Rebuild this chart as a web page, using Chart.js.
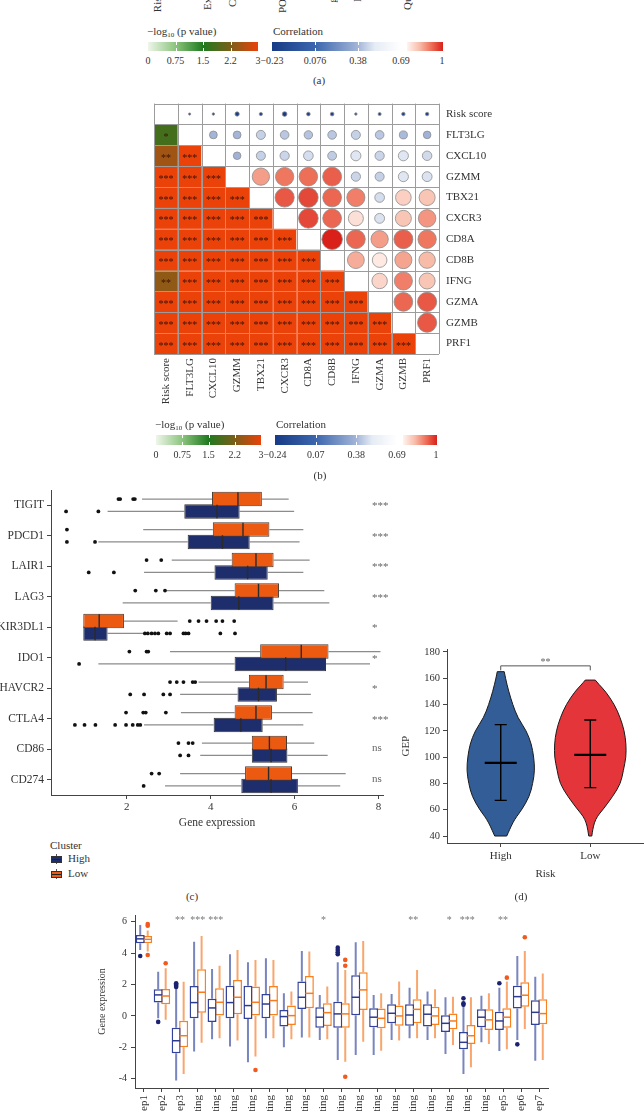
<!DOCTYPE html>
<html>
<head>
<meta charset="utf-8">
<title>Immune correlation figure</title>
<script src="https://cdn.jsdelivr.net/npm/chart.js@4.4.1/dist/chart.umd.min.js"></script>
<style>
  html, body { margin: 0; padding: 0; background: #fff; }
  body { position: relative; width: 644px; height: 1111px; overflow: hidden;
         font-family: "Liberation Serif", "DejaVu Serif", serif; color: #333; }
  canvas { position: absolute; }
  .txt { position: absolute; white-space: nowrap; line-height: 1; }
  .txt sub { font-size: 7px; vertical-align: -2px; line-height: 0; }
  .vert { position: absolute; writing-mode: vertical-rl; transform: rotate(180deg);
          white-space: nowrap; font-size: 11px; line-height: 11px; width: 11px; }
  .bar { position: absolute; }
  .tick { position: absolute; width: 1px; height: 3px; background: #fff; }
</style>
</head>
<body>
<canvas id="corrChart" width="380" height="330" style="left:140px;top:90px"></canvas>
<canvas id="checkpointChart" width="400" height="355" style="left:0;top:480px"></canvas>
<canvas id="gepChart" width="264" height="241" style="left:380px;top:640px"></canvas>
<canvas id="stepChart" width="470" height="245" style="left:90px;top:905px"></canvas>
<script>
// ---------- data ----------

// panel (a): only the ends of its column labels and its legend are in frame
const topMatrixLabels = ["Risk score", "TIDE", "Exclusion", "Cytolytic", "MSI", "POU2AF1",
  "CAF", "gMDSC", "Effector", "M2", "Quiescent", "CD8"];
const pTickText = ["0", "0.75", "1.5", "2.2", "3"];
const corrTickTextA = ["\u22120.23", "0.076", "0.38", "0.69", "1"];
const corrTickTextB = ["\u22120.24", "0.07", "0.38", "0.69", "1"];

// panel (b)
const corrGenes = ["Risk score", "FLT3LG", "CXCL10", "GZMM", "TBX21", "CXCR3", "CD8A", "CD8B",
  "IFNG", "GZMA", "GZMB", "PRF1"];
// upper triangle: correlation of row i with columns i+1 .. 11
const corrUpper = [
  [-0.11, -0.12, -0.21, -0.16, -0.23, -0.18, -0.18, -0.12, -0.15, -0.17, -0.17],
  [0.38, 0.38, 0.44, 0.42, 0.41, 0.42, 0.44, 0.42, 0.39, 0.37],
  [0.37, 0.44, 0.45, 0.47, 0.43, 0.49, 0.45, 0.49, 0.46],
  [0.84, 0.89, 0.90, 0.92, 0.45, 0.44, 0.49, 0.48],
  [0.93, 0.95, 0.91, 0.88, 0.47, 0.76, 0.78],
  [0.95, 0.91, 0.73, 0.48, 0.78, 0.85],
  [1.00, 0.91, 0.84, 0.92, 0.89],
  [0.82, 0.71, 0.83, 0.80],
  [0.75, 0.88, 0.78],
  [0.91, 0.93],
  [0.93]
];
// lower triangle: -log10(p), capped at 3, row i with columns 0 .. i-1
const negLogP = [
  [],
  [1.8],
  [2.5, 3],
  [3, 3, 3],
  [3, 3, 3, 3],
  [3, 3, 3, 3, 3],
  [3, 3, 3, 3, 3, 3],
  [3, 3, 3, 3, 3, 3, 3],
  [2.4, 3, 3, 3, 3, 3, 3, 3],
  [3, 3, 3, 3, 3, 3, 3, 3, 3],
  [3, 3, 3, 3, 3, 3, 3, 3, 3, 3],
  [3, 3, 3, 3, 3, 3, 3, 3, 3, 3, 3]
];

// panel (c)
const checkpointGenes = ["TIGIT", "PDCD1", "LAIR1", "LAG3", "KIR3DL1", "IDO1", "HAVCR2", "CTLA4", "CD86", "CD274"];
const checkpointTicks = [2, 4, 6, 8];
const lowMinC = [2.36, 2.39, 3.07, 2.95, 0.96, 3.03, 3.71, 3.29, 3.79, 3.27];
const lowQ1C  = [4.03, 4.05, 4.50, 4.57, 0.96, 5.18, 4.91, 4.57, 4.98, 4.82];
const lowMedC = [4.65, 4.77, 5.08, 5.14, 1.34, 6.16, 5.32, 5.08, 5.40, 5.38];
const lowQ3C  = [5.22, 5.40, 5.50, 5.63, 1.93, 6.81, 5.74, 5.46, 5.82, 5.94];
const lowMaxC = [5.86, 6.21, 6.36, 6.71, 3.21, 8.05, 6.32, 6.43, 6.47, 7.22];
const lowOutC = [[1.80, 1.84, 2.15, 2.19], [0.57], [2.47, 2.82], [2.20, 2.69, 2.91],
  [3.50, 3.71, 3.90, 4.13, 4.28, 4.56], [2.06, 2.47, 2.51], [3.03, 3.19, 3.35, 3.57, 3.63],
  [1.98, 2.39, 2.45, 2.93], [3.23, 3.47, 3.57], [2.59, 2.77]];
const highMinC = [1.54, 1.32, 2.41, 1.90, 0.96, 1.32, 3.27, 2.41, 3.75, 2.91];
const highQ1C  = [3.37, 3.45, 4.09, 4.00, 0.96, 4.57, 4.64, 4.07, 4.98, 4.73];
const highMedC = [4.15, 4.28, 4.88, 4.67, 1.24, 5.79, 5.14, 4.72, 5.44, 5.44];
const highQ3C  = [4.69, 4.93, 5.36, 5.50, 1.54, 6.75, 5.58, 5.24, 5.83, 6.08];
const highMaxC = [5.99, 6.12, 6.21, 6.83, 2.40, 7.80, 6.39, 6.21, 6.79, 7.09];
const highOutC = [[0.55, 1.32], [0.57, 1.24], [1.09, 1.69], [],
  [2.43, 2.50, 2.59, 2.67, 2.75, 2.95, 3.03, 3.35, 3.40, 3.47, 4.23, 4.58], [0.86],
  [2.08, 2.41, 2.87, 3.03], [0.76, 0.99, 1.25, 1.72, 1.98, 2.14, 2.26, 2.32], [3.27, 3.47], [2.40]];
const checkpointSig = ["***", "***", "***", "***", "*", "*", "*", "***", "ns", "ns"];

// panel (d)
const riskGroups = ["High", "Low"];
const gepTicks = [40, 60, 80, 100, 120, 140, 160, 180];
const violinLevelsHigh = [40, 45, 50, 55, 60, 70, 80, 90, 100, 110, 120, 130, 140, 150, 160, 165];
const violinWidthHigh = [0.067, 0.10, 0.134, 0.179, 0.235, 0.32, 0.358, 0.38, 0.369, 0.343, 0.287, 0.19, 0.134, 0.089, 0.053, 0.039];
const violinLevelsLow = [40, 45, 50, 55, 60, 70, 80, 90, 100, 110, 120, 130, 140, 150, 155, 158.6];
const violinWidthLow = [0.017, 0.028, 0.045, 0.078, 0.14, 0.25, 0.34, 0.37, 0.40, 0.40, 0.38, 0.335, 0.27, 0.17, 0.10, 0.056];
const gepMean = [95.7, 101.7];
const gepUpper = [124.7, 128.2];
const gepLower = [67.1, 76.8];
const gepSig = "**";

// panel (e)
const stepLabels = ["Step1", "Step2", "Step3", "T cell recruiting", "CD4 T cell recruiting",
  "CD8 T cell recruiting", "Th1 cell recruiting", "Dendritic cell recruiting", "Th22 cell recruiting",
  "Macrophage recruiting", "Monocyte recruiting", "Neutrophil recruiting", "NK cell recruiting",
  "Eosinophil recruiting", "B cell recruiting", "Basophil recruiting", "Th17 cell recruiting",
  "MDSC recruiting", "TH2 cell recruiting", "Treg cell recruiting", "Step5", "Step6", "Step7"];
const stepTicks = [-4, -2, 0, 2, 4, 6];
const highMinE = [4.20, -0.15, -4.12, -2.27, -1.49, -1.95, -2.95, -1.42, -1.99, -1.38, -1.53, -2.81, -2.49, -2.49, -1.53, -1.42, -1.53, -2.42, -3.70, -1.68, -2.23, -1.53, -2.85];
const highQ1E  = [4.63, 0.85, -2.38, -0.15, -0.38, -0.15, -0.19, -0.15, -0.68, 0.45, -0.75, -0.75, 0.04, -0.72, -0.47, -0.62, -0.68, -1.02, -2.12, -0.72, -0.89, 0.47, -0.58];
const highMedE = [4.91, 1.34, -1.58, 0.85, 0.51, 0.85, 0.66, 0.76, -0.04, 1.19, -0.08, 0.13, 1.19, -0.08, 0.17, 0.06, 0.11, -0.47, -1.68, -0.08, -0.32, 1.23, 0.23];
const highQ3E  = [5.16, 1.70, -0.75, 1.91, 1.10, 1.93, 1.93, 1.40, 0.38, 2.19, 0.55, 0.91, 2.59, 0.49, 0.74, 0.74, 0.74, 0.04, -1.02, 0.42, 0.27, 1.93, 1.00];
const highMaxE = [5.79, 2.82, 1.76, 4.73, 2.99, 3.93, 3.42, 3.67, 1.44, 4.14, 1.34, 3.42, 4.69, 1.34, 1.40, 1.80, 1.55, 1.19, 0.66, 1.29, 1.80, 3.82, 2.50];
const highOutE = [[3.82], [-0.38], [1.85, 1.92, 2.00, 2.08], [], [], [], [], [], [], [], [],
  [3.93, 4.05, 4.20, 4.35], [], [], [], [], [], [], [0.72, 0.81, 1.12], [], [2.08], [-1.81], []];
const lowMinE = [4.10, -0.25, -3.70, -1.70, -1.42, -1.57, -2.59, -1.42, -1.49, -1.38, -1.49, -2.91, -1.64, -2.21, -1.57, -1.42, -1.42, -1.85, -3.27, -1.79, -2.12, -0.83, -2.81];
const lowQ1E  = [4.63, 0.74, -2.00, 0.21, 0.00, 0.11, 0.00, 0.00, -0.58, 0.49, -0.64, -0.75, 0.38, -0.78, -0.62, -0.47, -0.58, -0.85, -1.79, -0.89, -0.76, 0.59, -0.53];
const lowMedE = [4.88, 1.27, -1.26, 1.51, 0.87, 1.19, 0.87, 0.98, 0.02, 1.44, 0.21, 0.13, 1.66, -0.15, 0.00, 0.42, 0.00, -0.32, -1.26, -0.25, -0.08, 1.32, 0.15];
const lowQ3E  = [5.10, 1.72, -0.30, 2.97, 1.76, 2.29, 1.87, 1.91, 0.66, 2.55, 0.81, 0.81, 2.78, 0.47, 0.66, 1.06, 0.59, 0.15, -0.58, 0.42, 0.49, 2.15, 1.06];
const lowMaxE = [5.45, 3.04, 2.18, 5.09, 3.20, 4.20, 3.57, 3.57, 1.55, 4.10, 1.87, 2.93, 4.78, 1.44, 2.19, 2.93, 1.70, 1.23, 1.19, 1.44, 2.19, 4.14, 2.71];
const lowOutE = [[3.88, 5.75, 5.85], [3.36], [], [], [], [], [-3.44], [], [], [], [],
  [3.20, 3.57, -3.87], [], [], [], [], [], [], [], [], [2.44], [5.01], []];
const stepSig = ["", "", "**", "***", "***", "", "", "", "", "", "*", "", "", "", "", "**", "", "*", "***", "", "**", "", ""];

// ---------- colour scales ----------
const pStops = [[0, '#eef6ea'], [0.75, '#8cc47e'], [1.5, '#1f7a1f'], [2.2, '#74601a'], [3, '#ea4209']];
const blueStops = [[-0.24, '#173b86'], [0.07, '#3b66ad'], [0.38, '#a3b5d8'], [0.5, '#e6ecf5'], [0.69, '#ffffff']];
const redStops = [[0.69, '#fff4f0'], [0.8, '#f8bba8'], [0.9, '#ee6f58'], [1, '#d9211a']];

function hexToRgb(h) {
  const n = parseInt(h.slice(1), 16);
  return [(n >> 16) & 255, (n >> 8) & 255, n & 255];
}
function ramp(stops, v) {
  if (v <= stops[0][0]) return stops[0][1];
  for (let k = 1; k < stops.length; k++) {
    if (v <= stops[k][0]) {
      const [v0, c0] = stops[k - 1], [v1, c1] = stops[k];
      const t = (v - v0) / (v1 - v0);
      const a = hexToRgb(c0), b = hexToRgb(c1);
      return 'rgb(' + a.map((x, i) => Math.round(x + (b[i] - x) * t)).join(',') + ')';
    }
  }
  return stops[stops.length - 1][1];
}
const pColour = v => ramp(pStops, v);
const corrColour = v => (v <= 0.69 ? ramp(blueStops, v) : ramp(redStops, v));
function cssGradient(stops) {
  const lo = stops[0][0], hi = stops[stops.length - 1][0];
  return 'linear-gradient(to right,' +
    stops.map(([v, c]) => c + ' ' + ((v - lo) / (hi - lo) * 100).toFixed(1) + '%').join(',') + ')';
}
const stars = v => (v >= 3 ? '***' : v >= 2 ? '**' : v >= 1.3 ? '*' : '');

// ---------- html text & legends ----------
function addText(html, left, top, size, centred) {
  const d = document.createElement('div');
  d.className = 'txt';
  d.innerHTML = html;
  d.style.fontSize = size + 'px';
  d.style.left = left + 'px';
  d.style.top = top + 'px';
  if (centred) d.style.transform = 'translateX(-50%)';
  document.body.appendChild(d);
  return d;
}
function addBar(left, top, w, h, bg, ticks) {
  const b = document.createElement('div');
  b.className = 'bar';
  Object.assign(b.style, { left: left + 'px', top: top + 'px', width: w + 'px', height: h + 'px', background: bg });
  document.body.appendChild(b);
  (ticks || []).forEach(x => {
    [top, top + h - 3].forEach(y => {
      const t = document.createElement('div');
      t.className = 'tick';
      t.style.left = Math.round(x) + 'px';
      t.style.top = y + 'px';
      document.body.appendChild(t);
    });
  });
}
function colourLegend(o, corrTickText) {
  addText('\u2212log<sub>10</sub> (p value)', o.pLeft - 1, o.titleY - 6, 11);
  const pX = pTickText.map((t, k) => o.pLeft + k * o.pWidth / 4);
  addBar(o.pLeft, o.barTop, o.pWidth, o.barH, cssGradient(pStops), pX.slice(1, 4));
  pTickText.forEach((t, k) => addText(t, pX[k], o.labelY - 5, 10, true));
  addText('Correlation', o.corrLeft + 1, o.titleY - 6, 11);
  const cX = corrTickText.map((t, k) => (k < 4 ? o.corrLeft + k * o.blueWidth / 3 : o.redLeft + o.redWidth - 1));
  addBar(o.corrLeft, o.barTop, o.blueWidth, o.barH, cssGradient(blueStops), cX.slice(1, 3));
  addBar(o.redLeft, o.barTop, o.redWidth, o.barH, cssGradient(redStops), []);
  corrTickText.forEach((t, k) => addText(t, cX[k], o.labelY - 5, 10, true));
}

// panel (a) column label ends
topMatrixLabels.forEach((lab, k) => {
  const d = document.createElement('div');
  d.className = 'vert';
  d.textContent = lab;
  d.style.left = (157 + k * 25 - 5.5) + 'px';
  d.style.top = '-34px';
  document.body.appendChild(d);
});
colourLegend({ titleY: 32, barTop: 42, barH: 9, labelY: 61, pLeft: 148, pWidth: 110,
  corrLeft: 272, blueWidth: 129, redLeft: 407, redWidth: 36 }, corrTickTextA);
addText('(a)', 319, 75, 11, true);

colourLegend({ titleY: 425, barTop: 435, barH: 10, labelY: 455, pLeft: 156, pWidth: 105,
  corrLeft: 275, blueWidth: 122, redLeft: 403, redWidth: 34 }, corrTickTextB);
addText('(b)', 320, 470, 11, true);

// cluster legend for (c)
addText('Cluster', 50, 840, 11);
[['High', '#1e2d6b', 859], ['Low', '#ec5a12', 874]].forEach(([name, col, cy]) => {
  const stub = document.createElement('div');
  Object.assign(stub.style, { position: 'absolute', left: '56px', top: (cy - 5) + 'px', width: '1px', height: '10px', background: '#555' });
  document.body.appendChild(stub);
  const box = document.createElement('div');
  Object.assign(box.style, { position: 'absolute', left: '51px', top: (cy - 3.5) + 'px', width: '9px', height: '5px',
    background: col, border: '1px solid #333' });
  document.body.appendChild(box);
  const med = document.createElement('div');
  Object.assign(med.style, { position: 'absolute', left: '52px', top: (cy - 0.5) + 'px', width: '9px', height: '1px', background: '#222' });
  document.body.appendChild(med);
  addText(name, 68, cy - 6, 11);
});
addText('(c)', 192, 891, 11, true);
addText('(d)', 521, 891, 11, true);

// ---------- chart.js ----------
const SERIF = "'Liberation Serif', 'DejaVu Serif', serif";
Chart.defaults.font.family = SERIF;
Chart.defaults.color = '#333';
Chart.defaults.animation = false;
Chart.defaults.responsive = false;
Chart.defaults.events = [];
Chart.defaults.plugins.legend.display = false;
Chart.defaults.plugins.tooltip.enabled = false;

const tickMarks = { display: true, drawOnChartArea: false, drawTicks: true, tickLength: 4, color: '#444', offset: false };
const axisLine = { display: true, color: '#444', width: 1 };

// (b) correlation matrix
const corrPoints = [];
corrUpper.forEach((row, i) => row.forEach((v, k) => {
  corrPoints.push({ x: corrGenes[i + 1 + k], y: corrGenes[i], v });
}));
const bubbleMaxRadius = 10.3; // radius of a |r| = 1 circle, px

const corrCells = {
  id: 'corrCells',
  beforeDatasetsDraw(chart) {
    const { ctx, scales: { x, y } } = chart;
    const n = corrGenes.length;
    const cw = x.getPixelForValue(1) - x.getPixelForValue(0);
    const ch = y.getPixelForValue(1) - y.getPixelForValue(0);
    ctx.save();
    for (let i = 0; i < n; i++) {
      for (let j = 0; j < n; j++) {
        const cx = x.getPixelForValue(j), cy = y.getPixelForValue(i);
        ctx.fillStyle = j < i ? pColour(negLogP[i][j]) : '#ffffff';
        ctx.fillRect(cx - cw / 2, cy - ch / 2, cw, ch);
      }
    }
    ctx.strokeStyle = '#9c9c9c';
    ctx.lineWidth = 1;
    ctx.beginPath();
    for (let k = 0; k <= n; k++) {
      const px = Math.round(x.getPixelForValue(k - 0.5)) + 0.5;
      const py = Math.round(y.getPixelForValue(k - 0.5)) + 0.5;
      ctx.moveTo(px, y.getPixelForValue(-0.5));
      ctx.lineTo(px, y.getPixelForValue(n - 0.5));
      ctx.moveTo(x.getPixelForValue(-0.5), py);
      ctx.lineTo(x.getPixelForValue(n - 0.5), py);
    }
    ctx.stroke();
    ctx.fillStyle = '#3a1204';
    ctx.font = '10px ' + SERIF;
    ctx.textAlign = 'center';
    ctx.textBaseline = 'middle';
    for (let i = 1; i < n; i++) {
      for (let j = 0; j < i; j++) {
        ctx.fillText(stars(negLogP[i][j]), x.getPixelForValue(j), y.getPixelForValue(i) + 2.5);
      }
    }
    ctx.restore();
  }
};

new Chart(document.getElementById('corrChart'), {
  type: 'bubble',
  data: {
    datasets: [{
      data: corrPoints,
      backgroundColor: c => (c.raw ? corrColour(c.raw.v) : '#fff'),
      borderColor: '#8d8d8d',
      borderWidth: 0.8,
      radius: c => (c.raw ? Math.max(0.9, Math.abs(c.raw.v) * bubbleMaxRadius) : 0)
    }]
  },
  options: {
    layout: { padding: { left: 14, top: 7, right: 0, bottom: 0 }, autoPadding: false },
    scales: {
      x: {
        type: 'category', labels: corrGenes, offset: true, position: 'bottom',
        grid: { display: false, drawTicks: false }, border: { display: false },
        ticks: { minRotation: 90, maxRotation: 90, autoSkip: false, padding: 4, font: { size: 11 }, color: '#333' },
        afterFit: s => { s.height = 66; }
      },
      y: {
        type: 'category', labels: corrGenes, offset: true, position: 'right',
        grid: { display: false, drawTicks: false }, border: { display: false },
        ticks: { autoSkip: false, padding: 7, font: { size: 11 }, color: '#333' },
        afterFit: s => { s.width = 81; }
      }
    }
  },
  plugins: [corrCells]
});

// box-plot whiskers, medians and outliers on top of floating bars
function boxplotExtras(id, groups, look) {
  return {
    id,
    beforeDatasetsDraw(chart) {
      const { ctx } = chart;
      const horiz = chart.options.indexAxis === 'y';
      const vs = horiz ? chart.scales.x : chart.scales.y;
      ctx.save();
      ctx.lineWidth = look.whiskerWidth;
      groups.forEach((g, d) => {
        ctx.strokeStyle = look.whiskerColour[d];
        chart.getDatasetMeta(d).data.forEach((bar, i) => {
          const c = horiz ? bar.y : bar.x;
          ctx.beginPath();
          [[g.min[i], g.q1[i]], [g.q3[i], g.max[i]]].forEach(([a, b]) => {
            const pa = vs.getPixelForValue(a), pb = vs.getPixelForValue(b);
            if (horiz) { ctx.moveTo(pa, c); ctx.lineTo(pb, c); }
            else { ctx.moveTo(c, pa); ctx.lineTo(c, pb); }
          });
          ctx.stroke();
        });
      });
      ctx.restore();
    },
    afterDatasetsDraw(chart) {
      const { ctx } = chart;
      const horiz = chart.options.indexAxis === 'y';
      const vs = horiz ? chart.scales.x : chart.scales.y;
      ctx.save();
      groups.forEach((g, d) => {
        chart.getDatasetMeta(d).data.forEach((bar, i) => {
          const c = horiz ? bar.y : bar.x;
          const half = (horiz ? bar.height : bar.width) / 2 - 0.5;
          const pm = vs.getPixelForValue(g.med[i]);
          ctx.strokeStyle = look.medianColour[d];
          ctx.lineWidth = look.medianWidth;
          ctx.beginPath();
          if (horiz) { ctx.moveTo(pm, c - half); ctx.lineTo(pm, c + half); }
          else { ctx.moveTo(c - half, pm); ctx.lineTo(c + half, pm); }
          ctx.stroke();
          ctx.fillStyle = look.outlierColour[d];
          g.out[i].forEach(v => {
            const po = vs.getPixelForValue(v);
            ctx.beginPath();
            if (horiz) ctx.arc(po, c, look.outlierRadius, 0, Math.PI * 2);
            else ctx.arc(c, po, look.outlierRadius, 0, Math.PI * 2);
            ctx.fill();
          });
        });
      });
      ctx.restore();
    }
  };
}

// (c) checkpoint expression
const checkpointGroups = [
  { min: lowMinC, q1: lowQ1C, med: lowMedC, q3: lowQ3C, max: lowMaxC, out: lowOutC },
  { min: highMinC, q1: highQ1C, med: highMedC, q3: highQ3C, max: highMaxC, out: highOutC }
];
const checkpointSigText = {
  id: 'checkpointSigText',
  afterDatasetsDraw(chart) {
    const { ctx, chartArea, scales: { y } } = chart;
    ctx.save();
    ctx.fillStyle = '#666';
    ctx.font = '11px ' + SERIF;
    ctx.textAlign = 'left';
    ctx.textBaseline = 'middle';
    checkpointSig.forEach((s, i) => {
      ctx.fillText(s, chartArea.right - 11, y.getPixelForValue(i) + (s === 'ns' ? -1 : 1));
    });
    ctx.restore();
  }
};

new Chart(document.getElementById('checkpointChart'), {
  type: 'bar',
  data: {
    labels: checkpointGenes,
    datasets: [
      { label: 'Low', data: checkpointGenes.map((g, i) => [lowQ1C[i], lowQ3C[i]]),
        backgroundColor: '#ec5a12', borderColor: '#4a3a32', borderWidth: 1, borderSkipped: false,
        categoryPercentage: 0.813, barPercentage: 1.17 },
      { label: 'High', data: checkpointGenes.map((g, i) => [highQ1C[i], highQ3C[i]]),
        backgroundColor: '#1e2d6b', borderColor: '#333333', borderWidth: 1, borderSkipped: false,
        categoryPercentage: 0.813, barPercentage: 1.17 }
    ]
  },
  options: {
    indexAxis: 'y',
    layout: { padding: { left: 0, top: 10, right: 17, bottom: 0 }, autoPadding: false },
    scales: {
      x: {
        type: 'linear', min: 0.19, max: 8.11,
        afterBuildTicks: s => { s.ticks = checkpointTicks.map(v => ({ value: v })); },
        grid: tickMarks, border: axisLine,
        ticks: { font: { size: 11 }, color: '#333', padding: 2 },
        title: { display: true, text: 'Gene expression', font: { size: 11.5 }, color: '#333', padding: { top: 0, bottom: 5 } },
        afterFit: s => { s.height = 40; }
      },
      y: {
        type: 'category', offset: true,
        grid: tickMarks, border: axisLine,
        ticks: { font: { size: 11.5 }, color: '#333', padding: 3, autoSkip: false },
        afterFit: s => { s.width = 51; }
      }
    }
  },
  plugins: [boxplotExtras('checkpointBoxes', checkpointGroups, {
    whiskerColour: ['#8c8c8c', '#8c8c8c'], whiskerWidth: 1.2,
    medianColour: ['#2b2b2b', '#2b2b2b'], medianWidth: 1.4,
    outlierColour: ['#111', '#111'], outlierRadius: 1.9
  }), checkpointSigText]
});

// (d) GEP violins
const violinGroups = [
  { levels: violinLevelsHigh, width: violinWidthHigh, colour: '#325d96' },
  { levels: violinLevelsLow, width: violinWidthLow, colour: '#e3353a' }
];
function smoothSide(ctx, pts, start) {
  if (start) ctx.moveTo(pts[0][0], pts[0][1]); else ctx.lineTo(pts[0][0], pts[0][1]);
  for (let k = 1; k < pts.length - 1; k++) {
    const mx = (pts[k][0] + pts[k + 1][0]) / 2, my = (pts[k][1] + pts[k + 1][1]) / 2;
    ctx.quadraticCurveTo(pts[k][0], pts[k][1], mx, my);
  }
  const last = pts[pts.length - 1];
  ctx.lineTo(last[0], last[1]);
}
const violinPlugin = {
  id: 'violins',
  beforeDatasetsDraw(chart) {
    const { ctx, scales: { x, y } } = chart;
    ctx.save();
    violinGroups.forEach((g, gi) => {
      const centre = gi + 1;
      const left = g.levels.map((lv, k) => [x.getPixelForValue(centre - g.width[k]), y.getPixelForValue(lv)]);
      const right = g.levels.map((lv, k) => [x.getPixelForValue(centre + g.width[k]), y.getPixelForValue(lv)]).reverse();
      ctx.beginPath();
      smoothSide(ctx, left, true);
      smoothSide(ctx, right, false);
      ctx.closePath();
      ctx.fillStyle = g.colour;
      ctx.fill();
      ctx.lineWidth = 1;
      ctx.strokeStyle = '#1a1a1a';
      ctx.stroke();
    });
    ctx.restore();
  },
  afterDatasetsDraw(chart) {
    const { ctx, scales: { x, y } } = chart;
    const yTop = y.getPixelForValue(169.4), yFoot = y.getPixelForValue(166);
    const x1 = x.getPixelForValue(1), x2 = x.getPixelForValue(2);
    ctx.save();
    ctx.strokeStyle = '#555';
    ctx.lineWidth = 1;
    ctx.beginPath();
    ctx.moveTo(x1, yFoot); ctx.lineTo(x1, yTop); ctx.lineTo(x2, yTop); ctx.lineTo(x2, yFoot);
    ctx.stroke();
    ctx.fillStyle = '#666';
    ctx.font = '10px ' + SERIF;
    ctx.textAlign = 'center';
    ctx.textBaseline = 'middle';
    ctx.fillText(gepSig, (x1 + x2) / 2, yTop - 3);
    ctx.restore();
  }
};

new Chart(document.getElementById('gepChart'), {
  type: 'scatter',
  data: {
    datasets: [
      ...riskGroups.map((g, i) => ({
        data: [{ x: i + 1, y: gepLower[i] }, { x: i + 1, y: gepUpper[i] }],
        showLine: true, borderColor: '#000', borderWidth: 1.4, pointRadius: 0
      })),
      { data: riskGroups.map((g, i) => ({ x: i + 1, y: gepMean[i] })),
        pointStyle: 'line', pointRadius: 16, borderColor: '#000', borderWidth: 2.2 },
      { data: riskGroups.flatMap((g, i) => [{ x: i + 1, y: gepLower[i] }, { x: i + 1, y: gepUpper[i] }]),
        pointStyle: 'line', pointRadius: 6, borderColor: '#000', borderWidth: 1.4 }
    ]
  },
  options: {
    layout: { padding: { left: 20, top: 8, right: 0, bottom: 0 }, autoPadding: false },
    scales: {
      x: {
        type: 'linear', min: 0.4, max: 2.6,
        afterBuildTicks: s => { s.ticks = riskGroups.map((g, i) => ({ value: i + 1 })); },
        grid: tickMarks, border: axisLine,
        ticks: { callback: v => riskGroups[v - 1], font: { size: 11 }, color: '#333', padding: 3 },
        title: { display: true, text: 'Risk', font: { size: 11 }, color: '#333', padding: { top: 0, bottom: 0 } },
        afterFit: s => { s.height = 38; }
      },
      y: {
        type: 'linear', min: 34.7, max: 182,
        afterBuildTicks: s => { s.ticks = gepTicks.map(v => ({ value: v })); },
        grid: tickMarks, border: axisLine,
        ticks: { font: { size: 10.5 }, color: '#333', padding: 3 },
        title: { display: true, text: 'GEP', font: { size: 11 }, color: '#333', padding: { top: 0, bottom: 0 } },
        afterFit: s => { s.width = 47; }
      }
    }
  },
  plugins: [violinPlugin]
});

// (e) cancer-immunity cycle steps
const stepGroups = [
  { min: highMinE, q1: highQ1E, med: highMedE, q3: highQ3E, max: highMaxE, out: highOutE },
  { min: lowMinE, q1: lowQ1E, med: lowMedE, q3: lowQ3E, max: lowMaxE, out: lowOutE }
];
const stepSigText = {
  id: 'stepSigText',
  afterDatasetsDraw(chart) {
    const { ctx, chartArea, scales: { x } } = chart;
    ctx.save();
    ctx.fillStyle = '#777';
    ctx.font = '10px ' + SERIF;
    ctx.textAlign = 'center';
    ctx.textBaseline = 'middle';
    stepSig.forEach((s, i) => { if (s) ctx.fillText(s, x.getPixelForValue(i), chartArea.top + 5); });
    ctx.restore();
  }
};

new Chart(document.getElementById('stepChart'), {
  type: 'bar',
  data: {
    labels: stepLabels,
    datasets: [
      { label: 'High', data: stepLabels.map((s, i) => [highQ1E[i], highQ3E[i]]),
        backgroundColor: '#ffffff', borderColor: '#33429a', borderWidth: 1.5, borderSkipped: false,
        categoryPercentage: 0.835, barPercentage: 1.2 },
      { label: 'Low', data: stepLabels.map((s, i) => [lowQ1E[i], lowQ3E[i]]),
        backgroundColor: '#ffffff', borderColor: '#f7821f', borderWidth: 1.5, borderSkipped: false,
        categoryPercentage: 0.835, barPercentage: 1.2 }
    ]
  },
  options: {
    layout: { padding: { left: 6, top: 10, right: 12, bottom: 0 }, autoPadding: false },
    scales: {
      x: {
        type: 'category', offset: true,
        grid: tickMarks, border: axisLine,
        ticks: { minRotation: 90, maxRotation: 90, autoSkip: false, font: { size: 11 }, color: '#333', padding: 3 },
        afterFit: s => { s.height = 62; }
      },
      y: {
        type: 'linear', min: -4.59, max: 6.43,
        afterBuildTicks: s => { s.ticks = stepTicks.map(v => ({ value: v })); },
        grid: tickMarks, border: axisLine,
        ticks: { font: { size: 10 }, color: '#333', padding: 4 },
        title: { display: true, text: 'Gene expression', font: { size: 10 }, color: '#333', padding: { top: 0, bottom: 0 } },
        afterFit: s => { s.width = 39; }
      }
    }
  },
  plugins: [boxplotExtras('stepBoxes', stepGroups, {
    whiskerColour: ['rgba(98,112,180,0.85)', 'rgba(247,150,85,0.85)'], whiskerWidth: 2,
    medianColour: ['#2d3b8e', '#f47b20'], medianWidth: 1.5,
    outlierColour: ['#1b2370', '#f2591f'], outlierRadius: 2.3
  }), stepSigText]
});
</script>
</body>
</html>
